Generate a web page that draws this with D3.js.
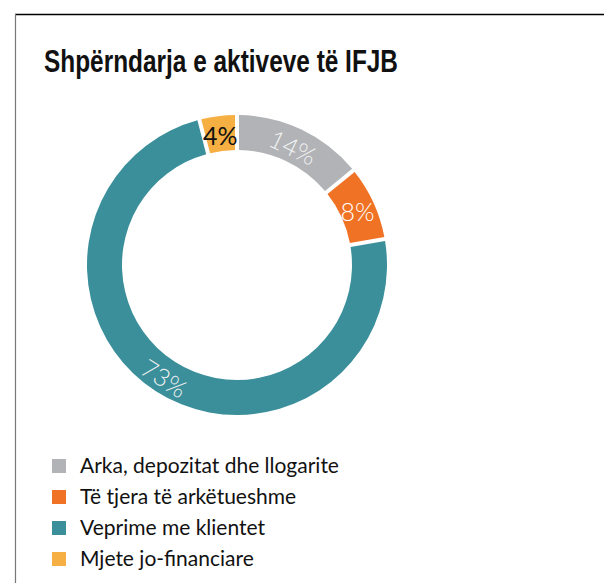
<!DOCTYPE html>
<html>

<head>
  <title>Shpërndarja e aktiveve të IFJB</title>
</head>

<style>
  body,
  html {
    margin: 0;
    padding: 0;
    background: #fff;
  }

  svg {
    display: block;
  }
</style>

<body>

  <svg id="svg" width="604" height="583"></svg>

  <script src="https://d3js.org/d3.v7.min.js"></script>
  <script>

    // data
    const categories = ['Arka, depozitat dhe llogarite', 'Të tjera të arkëtueshme', 'Veprime me klientet', 'Mjete jo-financiare']
    const values = [14, 8, 73, 4]
    const colors = ['#b1b3b6', '#f07224', '#3a8f9b', '#f5af42']
    const labelColors = ['#f2f2f2', '#ffffff', '#f2f2f2', '#111111']

    const data = categories.map((c, i) => ({ name: c, value: values[i], color: colors[i], labelColor: labelColors[i] }))

    const svg = d3.select('#svg')

    // frame
    svg.append('line')
      .attr('x1', 15).attr('x2', 604)
      .attr('y1', 14.5).attr('y2', 14.5)
      .attr('stroke', '#000').attr('stroke-width', 1.5)
    svg.append('line')
      .attr('x1', 15.5).attr('x2', 15.5)
      .attr('y1', 14).attr('y2', 583)
      .attr('stroke', '#777').attr('stroke-width', 1.2)

    // title
    svg.append('text')
      .attr('x', 44)
      .attr('y', 72)
      .attr('font-family', 'Liberation Sans Narrow, Arial Narrow, sans-serif')
      .attr('font-weight', 'bold')
      .attr('font-size', 31)
      .attr('textLength', 354)
      .attr('lengthAdjust', 'spacingAndGlyphs')
      .attr('fill', '#111')
      .text('Shpërndarja e aktiveve të IFJB')

    // donut
    const cx = 237, cy = 265
    const outerR = 150, innerR = 115

    const pie = d3.pie()
      .value(d => d.value)
      .sort(null)

    const arc = d3.arc()
      .innerRadius(innerR)
      .outerRadius(outerR)
      .padRadius(outerR)
      .padAngle(4 / outerR)

    const labelArc = d3.arc()
      .innerRadius((innerR + outerR) / 2)
      .outerRadius((innerR + outerR) / 2)

    const total = d3.sum(values)
    const arcs = pie(data)

    const g = svg.append('g')
      .attr('transform', `translate(${cx},${cy})`)

    g.selectAll('path')
      .data(arcs)
      .join('path')
      .attr('d', arc)
      .attr('fill', d => d.data.color)

    g.selectAll('text')
      .data(arcs)
      .join('text')
      .attr('transform', d => {
        const [x, y] = labelArc.centroid(d)
        let deg = (d.startAngle + d.endAngle) / 2 * 180 / Math.PI
        if (deg > 90 && deg < 270) deg -= 180
        // small slices keep their label upright
        if (d.data.value / total < 0.1) deg = 0
        return `translate(${x},${y}) rotate(${deg})`
      })
      .attr('text-anchor', 'middle')
      .attr('dy', '0.46em')
      .attr('font-family', 'Lato, sans-serif')
      .attr('font-weight', d => d.data.value / total < 0.05 ? 400 : 300)
      .attr('font-size', 25)
      .attr('fill', d => d.data.labelColor)
      .text(d => d.data.value + '%')

    // legend
    const legendY = d3.scaleBand()
      .domain(categories)
      .range([450, 574])

    const legend = svg.append('g')
      .selectAll('g')
      .data(data)
      .join('g')
      .attr('transform', d => `translate(52,${legendY(d.name)})`)

    legend.append('rect')
      .attr('x', 0)
      .attr('y', 9)
      .attr('width', 14)
      .attr('height', 14)
      .attr('fill', d => d.color)

    legend.append('text')
      .attr('x', 28)
      .attr('y', 23)
      .attr('font-family', 'Lato, sans-serif')
      .attr('font-size', 21)
      .attr('fill', '#111')
      .text(d => d.name)

  </script>

</body>

</html>
